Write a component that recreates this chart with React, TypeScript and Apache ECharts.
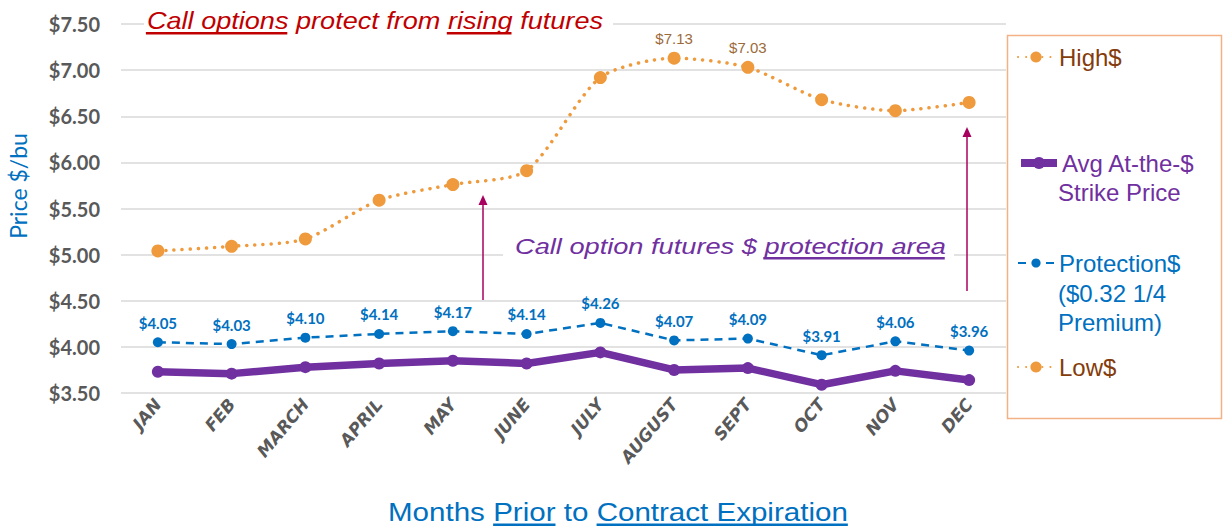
import React, { useEffect, useRef } from "react";
import * as echarts from "echarts";

// ---------- data ----------
const months = ["JAN", "FEB", "MARCH", "APRIL", "MAY", "JUNE", "JULY", "AUGUST", "SEPT", "OCT", "NOV", "DEC"];
const highValues = [5.04, 5.09, 5.17, 5.59, 5.76, 5.91, 6.92, 7.13, 7.03, 6.68, 6.56, 6.65];
const avgStrikeValues = [3.73, 3.71, 3.78, 3.82, 3.85, 3.82, 3.94, 3.75, 3.77, 3.59, 3.74, 3.64];
const protectionValues = [4.05, 4.03, 4.1, 4.14, 4.17, 4.14, 4.26, 4.07, 4.09, 3.91, 4.06, 3.96];
const lowValues: number[] = [];
const highLabeledMonths = ["AUGUST", "SEPT"];
const yMin = 3.5;
const yMax = 7.5;
const yStep = 0.5;

const seriesNames = {
  high: "High$",
  avg: "Avg At-the-$ Strike Price",
  protection: "Protection$ ($0.32 1/4 Premium)",
  low: "Low$",
};

// ---------- helpers ----------
const SANS = '"Liberation Sans", Arial, sans-serif';

function measure(text: string, size: number, family: string, italic: boolean, weight: string) {
  const ctx = document.createElement("canvas").getContext("2d")!;
  ctx.font = `${italic ? "italic " : ""}${weight} ${size}px ${family}`;
  return ctx.measureText(text).width;
}

type Seg = { text: string; underline?: boolean };

function textLine(
  segs: Seg[],
  o: {
    x0: number;
    x1: number;
    yMid: number;
    size: number;
    color: string;
    italic: boolean;
    weight?: string;
    ulOffset: number;
    ulWidth: number;
    bg?: { padL: number; padR: number; top: number; bottom: number };
  }
) {
  const weight = o.weight || "normal";
  const children: any[] = [];
  let cx = 0;
  segs.forEach((s) => {
    const w = measure(s.text, o.size, SANS, o.italic, weight);
    children.push({
      type: "text",
      x: cx,
      y: 0,
      z: 101,
      style: {
        text: s.text,
        fontFamily: SANS,
        fontSize: o.size,
        fontStyle: o.italic ? "italic" : "normal",
        fontWeight: weight,
        fill: o.color,
        align: "left",
        verticalAlign: "middle",
      },
    });
    if (s.underline) {
      children.push({
        type: "rect",
        z: 101,
        shape: { x: cx + (o.italic ? -1 : 0), y: o.ulOffset, width: w, height: o.ulWidth },
        style: { fill: o.color },
      });
    }
    cx += w;
  });
  const scaleX = (o.x1 - o.x0) / cx;
  const out: any[] = [];
  if (o.bg) {
    out.push({
      type: "rect",
      z: 99,
      shape: { x: o.x0 - o.bg.padL, y: o.bg.top, width: o.x1 - o.x0 + o.bg.padL + o.bg.padR, height: o.bg.bottom - o.bg.top },
      style: { fill: "#ffffff" },
    });
  }
  out.push({ type: "group", x: o.x0, y: o.yMid, scaleX, scaleY: 1, z: 101, children });
  return out;
}

function arrow(x: number, yBottom: number, yTip: number, color: string) {
  return [
    { type: "line", z: 100, shape: { x1: x, y1: yBottom, x2: x, y2: yTip + 6 }, style: { stroke: color, lineWidth: 1.5 } },
    {
      type: "polygon",
      z: 100,
      shape: { points: [[x, yTip], [x - 4.5, yTip + 10], [x + 4.5, yTip + 10]] },
      style: { fill: color },
    },
  ];
}

export default function App() {
  const ref = useRef<HTMLDivElement>(null);

  useEffect(() => {
    const chart = echarts.init(ref.current!, null, { renderer: "svg" });

    const orange = "#EE9A3D";
    const purple = "#7030A0";
    const blue = "#0070C0";
    const brown = "#843C0C";
    const red = "#C00000";
    const arrowColor = "#A8005F";

    const legendBase = {
      orient: "horizontal",
      left: 1017,
      padding: 0,
      itemWidth: 36,
      selectedMode: false,
    };
    const legendText = (color: string) => ({
      color,
      fontFamily: SANS,
      fontSize: 24,
      lineHeight: 28,
    });

    const graphics: any[] = [
      // legend frame
      {
        type: "rect",
        z: 90,
        shape: { x: 1007.5, y: 35.5, width: 214, height: 383 },
        style: { fill: "none", stroke: "#F4B183", lineWidth: 1.5 },
      },
      // legend continuation lines
      { type: "text", x: 1058, y: 192, z: 100, style: { text: "Strike Price", fontFamily: SANS, fontSize: 24, fill: purple, verticalAlign: "middle" } },
      { type: "text", x: 1058, y: 293, z: 100, style: { text: "($0.32 1/4", fontFamily: SANS, fontSize: 24, fill: blue, verticalAlign: "middle" } },
      { type: "text", x: 1058, y: 322, z: 100, style: { text: "Premium)", fontFamily: SANS, fontSize: 24, fill: blue, verticalAlign: "middle" } },
      // y axis title
      {
        type: "text",
        x: 18,
        y: 186,
        rotation: Math.PI / 2,
        z: 100,
        style: { text: "Price $/bu", fontFamily: "Lato, sans-serif", fontSize: 23, fill: blue, align: "center", verticalAlign: "middle" },
      },
      ...textLine(
        [{ text: "Call options", underline: true }, { text: " protect from " }, { text: "rising", underline: true }, { text: " futures" }],
        { x0: 147, x1: 603, yMid: 21, size: 24, color: red, italic: true, ulOffset: 11, ulWidth: 2.5, bg: { padL: 3, padR: 10, top: 14, bottom: 32 } }
      ),
      ...textLine(
        [{ text: "Call option futures $ " }, { text: "protection area", underline: true }],
        { x0: 515, x1: 946, yMid: 246, size: 22.5, color: purple, italic: true, ulOffset: 11, ulWidth: 2.5, bg: { padL: 12, padR: 8, top: 240, bottom: 258 } }
      ),
      ...textLine(
        [{ text: "Months " }, { text: "Prior", underline: true }, { text: " to " }, { text: "Contract Expiration", underline: true }],
        { x0: 388, x1: 848, yMid: 512, size: 25, color: blue, italic: false, ulOffset: 11.5, ulWidth: 2.5 }
      ),
      ...arrow(483, 300, 195, arrowColor),
      ...arrow(967, 291, 127, arrowColor),
    ];

    const option: any = {
      animation: false,
      backgroundColor: "#ffffff",
      grid: { left: 121, right: 219, top: 24, height: 369, containLabel: false },
      xAxis: {
        type: "category",
        data: months,
        boundaryGap: true,
        axisLine: { show: false },
        axisTick: { show: false },
        axisLabel: {
          interval: 0,
          rotate: 50,
          margin: 8,
          color: "#595959",
          fontFamily: '"DejaVu Sans", sans-serif',
          fontWeight: "bold",
          fontStyle: "italic",
          fontSize: 17,
        },
      },
      yAxis: {
        type: "value",
        min: yMin,
        max: yMax,
        interval: yStep,
        axisLine: { show: false },
        axisTick: { show: false },
        axisLabel: {
          margin: 21,
          color: "#595959",
          fontFamily: "Lato, sans-serif",
          fontWeight: "bold",
          fontSize: 20,
          formatter: (v: number) => "$" + v.toFixed(2),
        },
        splitLine: { lineStyle: { color: "#D9D9D9", width: 1.5 } },
      },
      legend: [
        { ...legendBase, top: 57 - 14, itemHeight: 14, data: [seriesNames.high], textStyle: legendText(brown) },
        {
          ...legendBase,
          top: 163 - 14,
          itemHeight: 15,
          data: [seriesNames.avg],
          formatter: () => "Avg At-the-$",
          lineStyle: { width: 8 },
          textStyle: legendText(purple),
        },
        { ...legendBase, top: 263 - 14, itemHeight: 11.5, data: [seriesNames.protection], formatter: () => "Protection$", textStyle: legendText(blue) },
        { ...legendBase, top: 367 - 14, itemHeight: 14, data: [seriesNames.low], textStyle: legendText(brown) },
      ],
      series: [
        {
          name: seriesNames.avg,
          type: "line",
          data: avgStrikeValues,
          symbol: "circle",
          symbolSize: 12,
          itemStyle: { color: purple },
          lineStyle: { color: purple, width: 7.5 },
          z: 2,
        },
        {
          name: seriesNames.protection,
          type: "line",
          data: protectionValues,
          symbol: "circle",
          symbolSize: 10,
          itemStyle: { color: blue },
          lineStyle: { color: blue, width: 2.5, type: [8, 6] },
          label: {
            show: true,
            position: "top",
            distance: 7,
            color: blue,
            fontFamily: "Lato, sans-serif",
            fontWeight: "bold",
            fontSize: 15,
            formatter: (p: any) => "$" + Number(p.value).toFixed(2),
          },
          z: 3,
        },
        {
          name: seriesNames.high,
          type: "line",
          data: highValues.map((v, i) => ({ value: v, label: { show: highLabeledMonths.includes(months[i]) } })),
          smooth: 0.25,
          symbol: "circle",
          symbolSize: 13,
          itemStyle: { color: orange },
          lineStyle: { color: orange, width: 3.5, type: [0.1, 8], cap: "round" },
          label: {
            show: false,
            position: "top",
            distance: 6,
            color: "#9C6A3A",
            fontFamily: SANS,
            fontSize: 15,
            formatter: (p: any) => "$" + Number(p.value).toFixed(2),
          },
          z: 4,
        },
        {
          name: seriesNames.low,
          type: "line",
          data: lowValues,
          symbol: "circle",
          symbolSize: 12,
          itemStyle: { color: orange },
          lineStyle: { color: orange, width: 3.5, type: [0.1, 8], cap: "round" },
          z: 4,
        },
      ],
      graphic: graphics,
    };

    chart.setOption(option);
    return () => chart.dispose();
  }, []);

  return <div ref={ref} style={{ position: "fixed", left: 0, top: 0, width: 1225, height: 527 }} />;
}
